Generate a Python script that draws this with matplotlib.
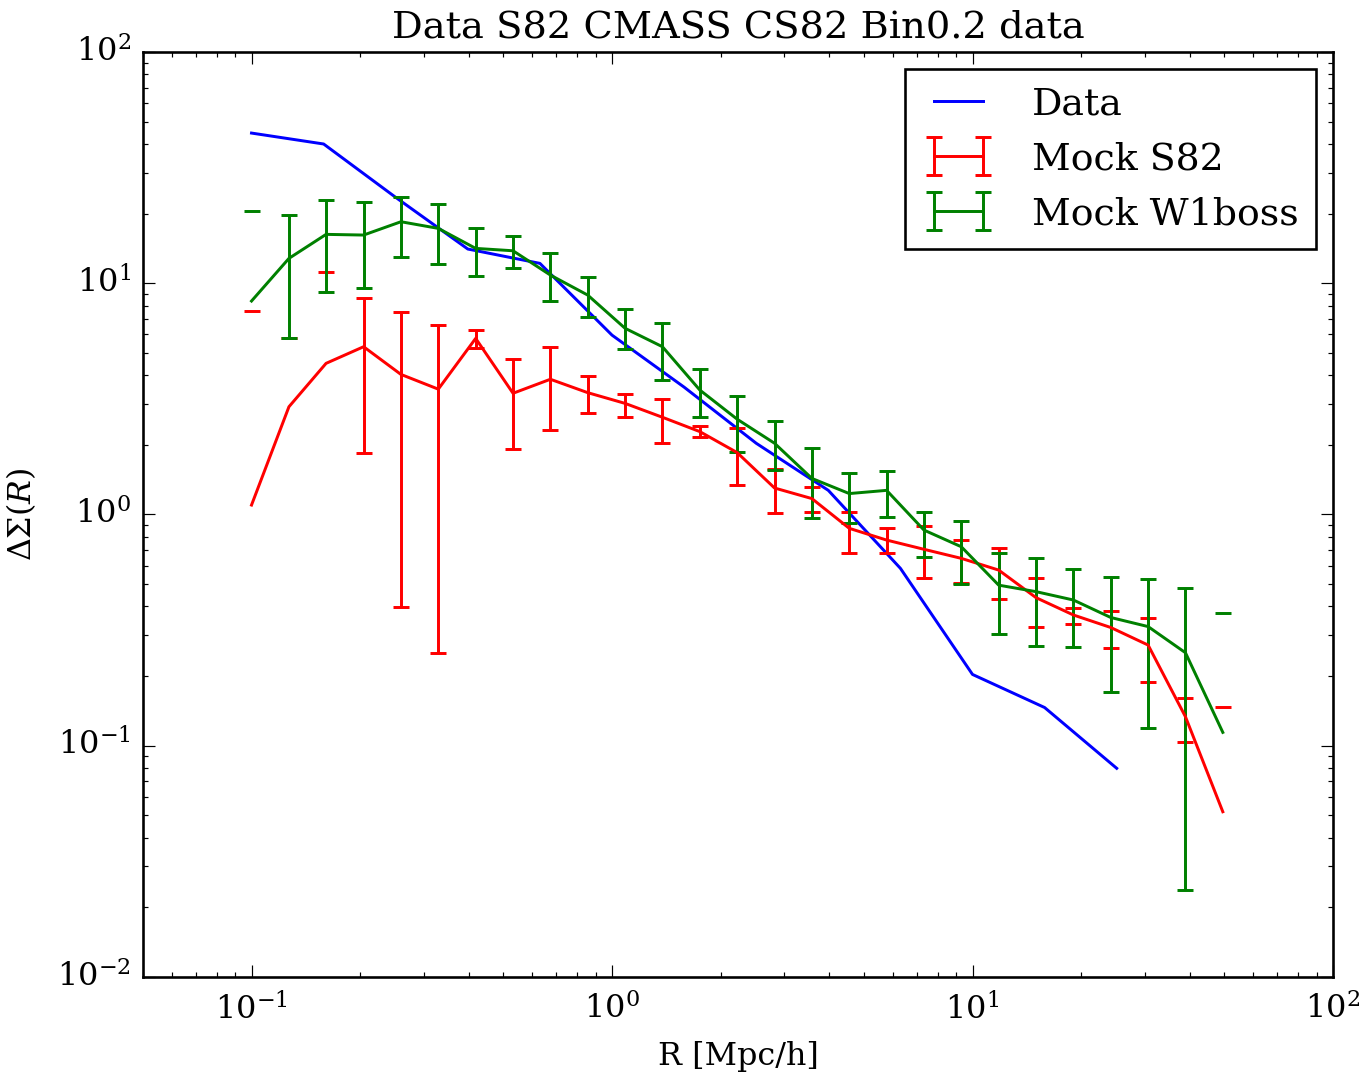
import numpy as np
import matplotlib
matplotlib.use("Agg")
import matplotlib.pyplot as plt

# ---------------- data ----------------
r_data = [0.1, 0.1585, 0.2512, 0.3981, 0.631, 1.0, 1.585, 2.512, 3.981,
          6.31, 10.0, 15.85, 25.12]
ds_data = [44.6, 40.0, 23.5, 14.05, 12.18, 5.96, 3.55, 2.03, 1.27,
           0.584, 0.203, 0.146, 0.0797]

r_mock = [0.1, 0.127, 0.161, 0.2046, 0.2597, 0.3297, 0.4186, 0.5314, 0.6746,
          0.8564, 1.087, 1.380, 1.752, 2.224, 2.824, 3.585, 4.551, 5.777,
          7.334, 9.311, 11.82, 15.01, 19.05, 24.18, 30.70, 38.97, 49.47]

nan = float("nan")

# Mock S82 (red): value, upper bound, lower bound (nan = below zero)
s82 = [1.097, 2.92, 4.50, 5.31, 4.03, 3.48, 5.77, 3.34, 3.84, 3.36, 3.02,
       2.63, 2.28, 1.85, 1.30, 1.17, 0.870, 0.774, 0.706, 0.645, 0.574,
       0.436, 0.367, 0.324, 0.272, 0.1332, 0.0517]
s82_hi = [7.57, 5.77, 11.14, 8.65, 7.52, 6.59, 6.27, 4.68, 5.28, 3.96, 3.31,
          3.14, 2.41, 2.36, 1.57, 1.316, 1.026, 0.870, 0.890, 0.774, 0.717,
          0.529, 0.394, 0.382, 0.355, 0.161, 0.1463]
s82_lo = [nan, nan, nan, 1.836, 0.398, 0.2505, 5.22, 1.91, 2.32, 2.75, 2.64,
          2.03, 2.17, 1.34, 1.01, 1.02, 0.678, 0.678, 0.529, 0.503, 0.429,
          0.327, 0.334, 0.265, 0.1877, 0.1039, nan]

# Mock W1boss (green)
w1 = [8.37, 12.8, 16.26, 16.15, 18.44, 17.26, 14.14, 13.81, 10.84, 8.88,
      6.38, 5.31, 3.45, 2.58, 2.03, 1.43, 1.23, 1.27, 0.855, 0.724, 0.494,
      0.463, 0.426, 0.358, 0.327, 0.252, 0.114]
w1_hi = [20.5, 19.7, 22.88, 22.5, 23.5, 21.99, 17.26, 15.99, 13.45, 10.66,
         7.70, 6.74, 4.25, 3.25, 2.54, 1.94, 1.51, 1.54, 1.026, 0.938, 0.678,
         0.649, 0.580, 0.537, 0.526, 0.479, 0.373]
w1_lo = [nan, 5.77, 9.18, 9.55, 12.93, 12.09, 10.73, 11.59, 8.37, 7.16,
         5.17, 3.81, 2.64, 1.87, 1.55, 0.961, 0.914, 0.976, 0.652, 0.499,
         0.304, 0.270, 0.266, 0.171, 0.1187, 0.0237, nan]

# ---------------- style ----------------
plt.style.use("classic")
plt.rcParams["font.family"] = ["DejaVu Serif"]
plt.rcParams["mathtext.fontset"] = "dejavuserif"
plt.rcParams["axes.unicode_minus"] = False

DPI = 170.6
fig = plt.figure(figsize=(1365 / DPI, 1079 / DPI), dpi=DPI, facecolor="white")
ax = fig.add_axes([143 / 1365, 1 - 976.7 / 1079, (1333 - 143) / 1365, (976.7 - 52) / 1079])

def err(v, hi, lo):
    v = np.asarray(v); hi = np.asarray(hi); lo = np.asarray(lo)
    return np.vstack([v - lo, hi - v])

LW = 1.25
ax.plot(r_data, ds_data, color="b", lw=LW, label="Data")
ax.errorbar(r_mock, s82, yerr=err(s82, s82_hi, s82_lo), color="r", lw=LW,
            capsize=3.4, capthick=LW, elinewidth=LW, label="Mock S82")
ax.errorbar(r_mock, w1, yerr=err(w1, w1_hi, w1_lo), color="g", lw=LW,
            capsize=3.4, capthick=LW, elinewidth=LW, label="Mock W1boss")

ax.set_xscale("log")
ax.set_yscale("log")
ax.set_xlim(0.05, 100)
ax.set_ylim(0.01, 100)

ax.tick_params(which="major", length=5, labelsize=13.5)
ax.tick_params(which="minor", length=2.2)
ax.tick_params(axis="x", which="major", pad=7)
ax.tick_params(axis="y", which="major", pad=5)
for sp in ax.spines.values():
    sp.set_linewidth(1.1)

ax.set_title("Data S82 CMASS CS82 Bin0.2 data", fontsize=16.2, pad=6)
ax.set_xlabel("R [Mpc/h]", fontsize=13.4, labelpad=6)
ax.set_ylabel(r"$\Delta\Sigma(R)$", fontsize=13.4, labelpad=8)

leg = ax.legend(loc="upper right", fontsize=16, numpoints=2,
                handlelength=1.9, handletextpad=1.0, borderpad=0.45,
                borderaxespad=0.45)
leg.get_frame().set_edgecolor("black")
leg.get_frame().set_linewidth(1.1)

fig.savefig("out.png", dpi=DPI, facecolor="white")
